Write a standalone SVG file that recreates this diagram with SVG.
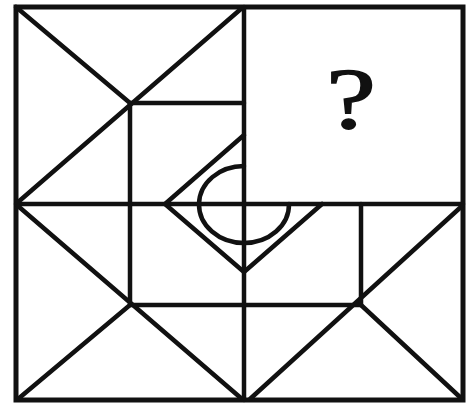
<svg xmlns="http://www.w3.org/2000/svg" width="469" height="408" viewBox="0 0 469 408">
<style>
.l{stroke:#111;stroke-width:4.5;fill:none;stroke-linecap:round;stroke-linejoin:round}
.b{stroke:#111;stroke-width:5;fill:none}
</style>
<rect width="469" height="408" fill="#fff"/>
<g id="frame">
<rect class="b" x="16" y="7" width="447" height="393"/>
<line class="l" x1="244" y1="7" x2="244" y2="400"/>
<line class="l" x1="16" y1="204" x2="463" y2="204"/>
</g>
<g id="diagonals">
<line class="l" x1="16" y1="7" x2="130" y2="103"/>
<line class="l" x1="242" y1="8" x2="17" y2="203"/>
<line class="l" x1="18" y1="206" x2="242" y2="399"/>
<line class="l" x1="18" y1="399" x2="130" y2="305"/>
<line class="l" x1="462" y1="206" x2="250" y2="399"/>
<line class="l" x1="361" y1="305" x2="462" y2="399"/>
</g>
<g id="inner-square">
<polyline class="l" points="244,103 130,103 130,305 361,305 361,204"/>
</g>
<g id="diamond">
<polyline class="l" points="244,135 165,204 244,272 322,204"/>
</g>
<g id="circle">
<path class="l" d="M244,166 A45,38.5 0 0 0 199,204 A45,38.5 0 0 0 244,243 A45,38.5 0 0 0 289,204"/>
</g>
<text transform="translate(351,128) scale(1.3,1)" x="0" y="0" font-family="Liberation Serif, Times New Roman, serif" font-size="86" text-anchor="middle" fill="#111" stroke="#111" stroke-width="1.5">?</text>
</svg>
